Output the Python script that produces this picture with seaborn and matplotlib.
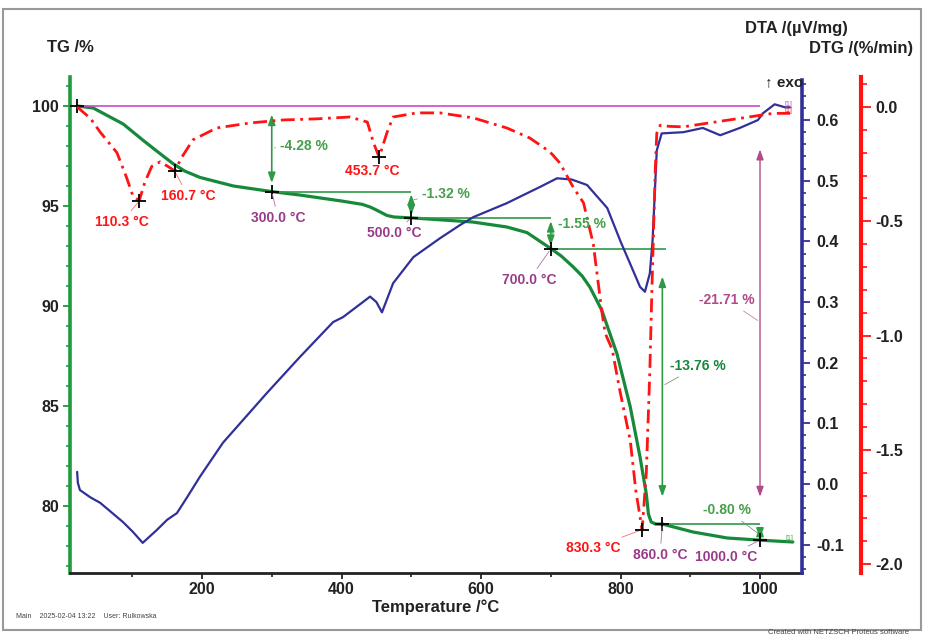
import matplotlib
matplotlib.use('Agg')
import matplotlib.pyplot as plt
import seaborn as sns
from matplotlib.ticker import MultipleLocator, FormatStrFormatter
from matplotlib.patches import Rectangle

tg_temp = [21, 44, 87, 115, 135, 158, 175, 197, 245, 300, 340, 400, 430, 441, 450, 465, 475,
           503, 588, 637, 666, 701, 715, 732, 745, 756, 773, 795, 814, 828, 837, 840, 844,
           850, 861, 904, 953, 1001, 1047]
tg_vals = [100.0, 99.9, 99.1, 98.3, 97.75, 97.13, 96.75, 96.43, 96.0, 95.72, 95.55, 95.25,
           95.08, 94.95, 94.8, 94.53, 94.45, 94.4, 94.2, 93.95, 93.67, 92.85, 92.5, 91.96,
           91.5, 90.95, 89.8, 87.6, 84.95, 82.45, 80.6, 79.6, 79.2, 79.1, 79.09, 78.7, 78.4,
           78.29, 78.2]

dta_temp = [21, 22, 25, 40, 54, 87, 101, 115, 135, 150, 164, 178, 197, 230, 293, 340, 388,
            402, 425, 441, 450, 458, 474, 503, 541, 570, 589, 637, 685, 709, 730, 752,
            781, 800, 815, 828, 835, 842, 846, 852, 859, 890, 918, 943, 971, 997, 1004,
            1021, 1036, 1043]
dta_vals = [0.020, 0.002, -0.010, -0.022, -0.031, -0.063, -0.079, -0.097, -0.076, -0.059,
            -0.048, -0.023, 0.012, 0.068, 0.150, 0.209, 0.267, 0.275, 0.295, 0.309, 0.300,
            0.283, 0.331, 0.374, 0.405, 0.427, 0.440, 0.463, 0.490, 0.504, 0.502, 0.493,
            0.455, 0.400, 0.360, 0.325, 0.317, 0.347, 0.402, 0.550, 0.578, 0.580, 0.587,
            0.575, 0.587, 0.600, 0.611, 0.626, 0.621, 0.621]

dtg_temp = [21, 40, 54, 78, 92, 101, 110, 118, 128, 140, 151, 161, 171, 187, 221, 269, 316,
            365, 412, 437, 446, 454, 465, 474, 508, 541, 589, 637, 670, 699, 713, 732, 747,
            761, 773, 778, 788, 799, 814, 822, 831, 837, 842, 845, 847, 850, 852, 857, 870,
            890, 938, 986, 1019, 1043]
dtg_vals = [0.0, -0.05, -0.11, -0.20, -0.31, -0.39, -0.41, -0.33, -0.26, -0.24, -0.26, -0.28,
            -0.22, -0.144, -0.092, -0.070, -0.057, -0.052, -0.044, -0.066, -0.158, -0.22,
            -0.114, -0.044, -0.026, -0.026, -0.048, -0.092, -0.136, -0.197, -0.245, -0.35,
            -0.42, -0.60, -0.89, -0.99, -1.06, -1.24, -1.46, -1.68, -1.85, -1.60, -1.16,
            -0.80, -0.58, -0.26, -0.115, -0.08, -0.085, -0.087, -0.065, -0.043, -0.028,
            -0.028]

# DTG peak temperatures and the DTG value at each
peak_temps = [110.3, 160.7, 453.7, 830.3]
peak_dtg = [-0.41, -0.28, -0.22, -1.85]

# mass-loss steps: start / end temperatures and TG level at the end
step_start = [21, 300, 500, 700, 860]
step_end = [300, 500, 700, 860, 1000]
step_tg = [95.72, 94.40, 92.85, 79.09, 78.29]
step_loss = [-4.28, -1.32, -1.55, -13.76, -0.80]
total_loss = -21.71

GREEN = '#17893b'
BLUE = '#30309a'
RED = '#ff1414'
PURPLE = '#993a88'
MAGENTA = '#c84cc8'
LGREEN = '#45a04a'
PINK = '#b04a8a'

sns.set_theme(style='ticks')
plt.rcParams['font.family'] = ['Liberation Sans', 'DejaVu Sans']
plt.rcParams['font.weight'] = 'bold'
plt.rcParams['axes.unicode_minus'] = False

W, H = 925, 636
fig = plt.figure(figsize=(W / 100, H / 100), dpi=100)
fig.patch.set_facecolor('white')
ax = fig.add_axes([70 / W, 1 - 573 / H, 732 / W, 496 / H])
ax2 = ax.twinx()
ax3 = ax.twinx()

# curves
sns.lineplot(x=tg_temp, y=tg_vals, ax=ax, color=GREEN, lw=2.3, sort=False, estimator=None)
sns.lineplot(x=dta_temp, y=dta_vals, ax=ax2, color=BLUE, lw=1.6, sort=False, estimator=None)
sns.lineplot(x=dtg_temp, y=dtg_vals, ax=ax3, color=RED, lw=2.0, sort=False, estimator=None,
             linestyle=(0, (5, 2, 1, 2)))

# reference line at 100 %
ax.hlines(100, tg_temp[0], step_end[-1], color=MAGENTA, lw=1.2)

# limits
ax.set_xlim(10.75, 1060.2)
ax.set_ylim(76.65, 101.45)
ax2.set_ylim(-0.1467, 0.671)
ax3.set_ylim(-2.039, 0.131)

# spines
for s in ['top', 'right']:
    ax.spines[s].set_visible(False)
ax.spines['left'].set_color('#1f9a3f')
ax.spines['left'].set_linewidth(2.6)
ax.spines['bottom'].set_color('#222222')
ax.spines['bottom'].set_linewidth(2)
for a in (ax2, ax3):
    for s in ['top', 'left', 'bottom']:
        a.spines[s].set_visible(False)
ax2.spines['right'].set_color(BLUE)
ax2.spines['right'].set_linewidth(2.6)
ax2.spines['right'].set_bounds(-0.1467, 0.666)
ax3.spines['right'].set_position(('outward', 42.5))  # points: 59 px at 100 dpi
ax3.spines['right'].set_color(RED)
ax3.spines['right'].set_linewidth(3)

# ticks
ax.xaxis.set_major_locator(MultipleLocator(200))
ax.xaxis.set_minor_locator(MultipleLocator(100))
ax.yaxis.set_major_locator(MultipleLocator(5))
ax.yaxis.set_minor_locator(MultipleLocator(1))
ax2.yaxis.set_major_locator(MultipleLocator(0.1))
ax2.yaxis.set_minor_locator(MultipleLocator(0.02))
ax2.yaxis.set_major_formatter(FormatStrFormatter('%.1f'))
ax3.yaxis.set_major_locator(MultipleLocator(0.5))
ax3.yaxis.set_minor_locator(MultipleLocator(0.1))
ax3.yaxis.set_major_formatter(FormatStrFormatter('%.1f'))

ax.tick_params(axis='x', which='major', length=4, width=1.3, color='#222222', labelsize=11.5, pad=2.5)
ax.tick_params(axis='x', which='minor', length=3, width=1.2, color='#222222')
ax.tick_params(axis='y', which='major', length=5, width=1.3, color='#1f9a3f', labelsize=11.5, pad=3)
ax.tick_params(axis='y', which='minor', length=3, width=1.2, color='#1f9a3f')
ax2.tick_params(axis='y', which='major', right=True, left=False, length=6, width=1.3, color=BLUE,
                labelsize=11.5, pad=4)
ax2.tick_params(axis='y', which='minor', right=True, left=False, length=3, width=1.2, color=BLUE)
ax3.tick_params(axis='y', which='major', right=True, left=False, length=7, width=1.3, color=RED,
                labelsize=11.5, pad=3)
ax3.tick_params(axis='y', which='minor', right=True, left=False, length=4, width=1.2, color=RED)

for a in (ax, ax2, ax3):
    a.set_ylabel('')
    for lbl in a.get_xticklabels() + a.get_yticklabels():
        lbl.set_fontweight('bold')
        lbl.set_color('#222222')

ax.set_xlabel('Temperature /°C', fontsize=12, fontweight='bold', color='#222222')
ax.xaxis.set_label_coords(0.5, -0.069)
ax.xaxis.label.set_va('center')

# mass-loss brackets
level_start = [100.0] + step_tg[:-1]
for i, (t0, t1, y0, y1) in enumerate(zip(step_start, step_end, level_start, step_tg)):
    if i > 0:
        ext = 5 if i == 3 else 0
        ax.hlines(y0, t0, t1 + ext, color='#2e9a48', lw=1.2)
    span = y0 - y1
    ax.annotate('', xy=(t1, y1 + 0.1 * span), xytext=(t1, y0 - 0.1 * span),
                arrowprops=dict(arrowstyle='<|-|>,head_length=0.5,head_width=0.18',
                                color='#2e9a48', lw=1.2, shrinkA=0, shrinkB=0))
ax.annotate('', xy=(step_end[-1], step_tg[-1] - 0.1 * total_loss),
            xytext=(step_end[-1], 100 + 0.1 * total_loss),
            arrowprops=dict(arrowstyle='<|-|>,head_length=0.5,head_width=0.18',
                            color=PINK, lw=1.0, shrinkA=0, shrinkB=0))

# markers
sns.scatterplot(x=[tg_temp[0]] + step_end, y=[100.0] + step_tg, ax=ax, marker='+', s=90,
                color='black', linewidth=1.3, zorder=5)
sns.scatterplot(x=peak_temps, y=peak_dtg, ax=ax3, marker='+', s=90, color='black',
                linewidth=1.3, zorder=5)


def lead(color):
    return dict(arrowstyle='-', color=color, lw=0.6, shrinkA=1, shrinkB=2)


# peak labels (figure pixel positions, measured from the top)
peak_pos = [(122, 222), (188, 196), (372, 171), (593, 548)]
for t, v, (px, py) in zip(peak_temps, peak_dtg, peak_pos):
    ax3.annotate(f'{t:.1f} °C', xy=(t, v), xytext=(px, H - py), textcoords='figure pixels',
                 ha='center', va='center', fontsize=10, color=RED, arrowprops=lead('#ff6a6a'))

step_pos = [(278, 218), (394, 233), (529, 280), (660, 555), (726, 557)]
for t, v, (px, py) in zip(step_end, step_tg, step_pos):
    ax3.annotate(f'{t:.1f} °C', xy=(t, v), xycoords=ax.transData, xytext=(px, H - py),
                 textcoords='figure pixels', ha='center', va='center', fontsize=10,
                 color=PURPLE, arrowprops=lead('#b070a8'))

loss_pos = [(304, 146), (446, 194), (582, 224), (698, 366), (727, 510)]
loss_tip = [97.9, 95.3, 93.6, 86.0, 78.55]
for t, v, d, (px, py) in zip(step_end, loss_tip, step_loss, loss_pos):
    col = GREEN if d < -10 else LGREEN
    ax3.annotate(f'{d:.2f} %', xy=(t, v), xycoords=ax.transData, xytext=(px, H - py),
                 textcoords='figure pixels', ha='center', va='center', fontsize=10,
                 color=col, arrowprops=lead('#7a9a7a'))
ax3.annotate(f'{total_loss:.2f} %', xy=(step_end[-1], 89.2), xycoords=ax.transData,
             xytext=(727, H - 300), textcoords='figure pixels', ha='center', va='center',
             fontsize=10, color=PINK, arrowprops=lead('#c080b0'))

# small segment tags
fig.text(788 / W, 1 - 104 / H, '[1]', fontsize=5, color=MAGENTA, ha='center', va='center',
         weight='normal')
fig.text(788 / W, 1 - 110 / H, '[1]', fontsize=5, color=RED, ha='center', va='center',
         weight='normal')
fig.text(789 / W, 1 - 538 / H, '[1]', fontsize=5, color=LGREEN, ha='center', va='center',
         weight='normal')

# axis titles
fig.text(47 / W, 1 - 48 / H, 'TG /%', fontsize=12, color='#222222', ha='left', va='center')
fig.text(848 / W, 1 - 28 / H, 'DTA /(µV/mg)', fontsize=12, color='#222222', ha='right',
         va='center')
fig.text(913 / W, 1 - 48 / H, 'DTG /(%/min)', fontsize=12, color='#222222', ha='right',
         va='center')
fig.text(803 / W, 1 - 82 / H, '↑ exo', fontsize=11, color='#222222', ha='right', va='center')

# footer
fig.text(16 / W, 1 - 617 / H, 'Main    2025-02-04 13:22    User: Rulkowska', fontsize=5,
         color='#444444', weight='normal', ha='left', va='center')
fig.text(768 / W, 1 - 633 / H, 'Created with NETZSCH Proteus software', fontsize=5.5,
         color='#444444', weight='normal', ha='left', va='center')

# outer frame
fig.patches.append(Rectangle((3 / W, 1 - 630 / H), 918 / W, 621 / H, transform=fig.transFigure,
                             fill=False, edgecolor='#999999', lw=1.5))

fig.savefig('out.png', dpi=100)
